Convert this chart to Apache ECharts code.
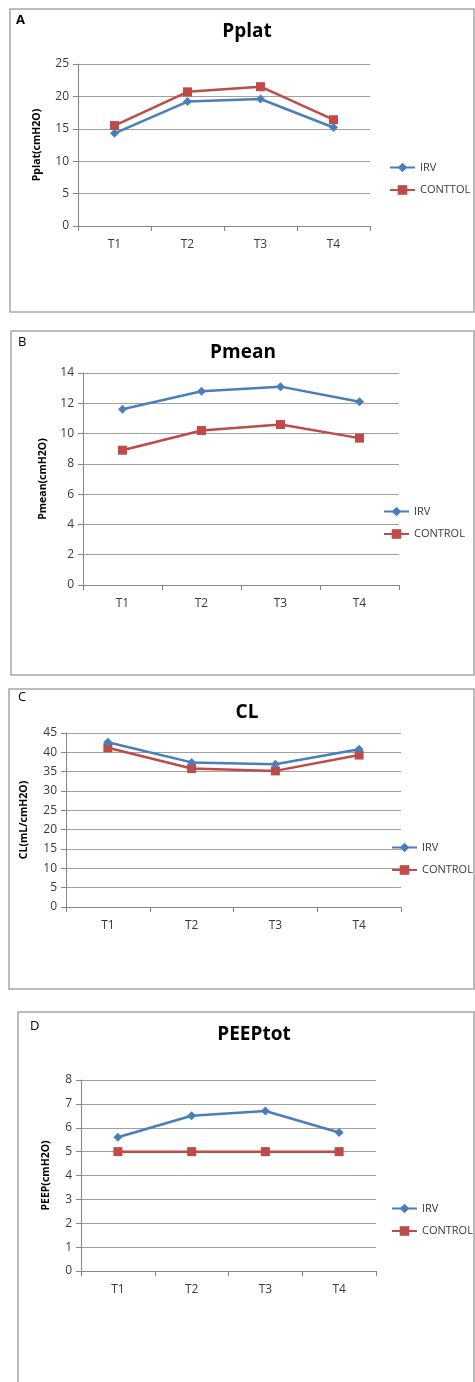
<!DOCTYPE html>
<html><head><meta charset="utf-8">
<script src="https://cdn.jsdelivr.net/npm/echarts@6/dist/echarts.min.js"></script>
<style>html,body{margin:0;padding:0;background:#fff}#c{width:475px;height:1382px}</style>
</head><body><div id="c"></div>
<script>
// ---- data ----
const categories = ['T1', 'T2', 'T3', 'T4'];
const pplatIRV = [14.3, 19.2, 19.6, 15.2];
const pplatControl = [15.5, 20.7, 21.5, 16.4];
const pmeanIRV = [11.6, 12.8, 13.1, 12.1];
const pmeanControl = [8.9, 10.2, 10.6, 9.7];
const clIRV = [42.6, 37.4, 36.9, 40.8];
const clControl = [41.2, 35.8, 35.2, 39.3];
const peepIRV = [5.6, 6.5, 6.7, 5.8];
const peepControl = [5, 5, 5, 5];
const titles = ['Pplat', 'Pmean', 'CL', 'PEEPtot'];
const letters = ['A', 'B', 'C', 'D'];
const yNames = ['Pplat(cmH2O)', 'Pmean(cmH2O)', 'CL(mL/cmH2O)', 'PEEP(cmH2O)'];
const controlNames = ['CONTTOL', 'CONTROL', 'CONTROL', 'CONTROL'];
const yMax = [25, 14, 45, 8];
const yStep = [5, 2, 5, 1];

// ---- layout (pixels) ----
const panels = [
  {frame: [10, 9, 474, 312], letter: [16, 14, true], title: [247, 35], grid: [78, 64, 370, 226], nameGap: 35, legend: [390, 168]},
  {frame: [11, 331, 474, 675], letter: [18, 336, false], title: [243, 356], grid: [83, 373, 399, 585], nameGap: 34, legend: [384, 512]},
  {frame: [9, 689, 474, 989], letter: [18, 691, false], title: [247, 716], grid: [66, 733, 401, 907], nameGap: 36, legend: [392, 848]},
  {frame: [18, 1012, 474, 1392], letter: [30, 1020, false], title: [254, 1038], grid: [81, 1080, 376, 1271], nameGap: 29, legend: [392, 1209]}
];
const irvData = [pplatIRV, pmeanIRV, clIRV, peepIRV];
const ctlData = [pplatControl, pmeanControl, clControl, peepControl];

const BLUE = '#4A7EBB', RED = '#BE4B48';
const FONT = 'Open Sans';
const chart = echarts.init(document.getElementById('c'), null, {renderer: 'canvas'});

const option = {
  backgroundColor: '#fff',
  animation: false,
  textStyle: {fontFamily: FONT},
  title: [], grid: [], xAxis: [], yAxis: [], series: [], legend: [], graphic: []
};

panels.forEach((p, i) => {
  const [fx0, fy0, fx1, fy1] = p.frame;
  option.graphic.push({type: 'rect', shape: {x: fx0, y: fy0, width: fx1 - fx0, height: fy1 - fy0},
    style: {fill: 'none', stroke: '#a6a6a6', lineWidth: 1.5}, silent: true, z: 0});
  option.graphic.push({type: 'text', x: p.letter[0], y: p.letter[1],
    style: {text: letters[i], font: (p.letter[2] ? 'bold ' : '') + '13px "' + FONT + '"', fill: '#000'}});
  option.title.push({text: titles[i], left: p.title[0], top: p.title[1] - 13, textAlign: 'center', padding: 0,
    textStyle: {fontFamily: FONT, fontWeight: 'bold', fontSize: 19, color: '#000'}});
  const [gx0, gy0, gx1, gy1] = p.grid;
  option.grid.push({left: gx0, top: gy0, width: gx1 - gx0, height: gy1 - gy0, containLabel: false});
  option.xAxis.push({type: 'category', gridIndex: i, data: categories, boundaryGap: true,
    axisLine: {lineStyle: {color: '#868686', width: 1}},
    axisTick: {show: true, length: 5, lineStyle: {color: '#868686'}},
    axisLabel: {color: '#3a3a3a', fontSize: 12, margin: 13, fontFamily: FONT}});
  option.yAxis.push({type: 'value', gridIndex: i, min: 0, max: yMax[i], interval: yStep[i],
    name: yNames[i], nameLocation: 'middle', nameRotate: 90, nameGap: p.nameGap,
    nameTextStyle: {fontWeight: 'bold', fontSize: 10.5, color: '#000', fontFamily: FONT},
    axisLine: {show: true, lineStyle: {color: '#868686', width: 1}},
    axisTick: {show: true, length: 5, lineStyle: {color: '#868686'}},
    splitLine: {show: true, lineStyle: {color: '#a0a0a0', width: 1}},
    axisLabel: {color: '#3a3a3a', fontSize: 12, margin: 9, fontFamily: FONT}});
  option.series.push({type: 'line', name: 'IRV', xAxisIndex: i, yAxisIndex: i, data: irvData[i],
    symbol: 'diamond', symbolSize: 9, lineStyle: {color: BLUE, width: 2.5},
    itemStyle: {color: BLUE}, z: 3});
  option.series.push({type: 'line', name: controlNames[i], xAxisIndex: i, yAxisIndex: i, data: ctlData[i],
    symbol: 'rect', symbolSize: 9, lineStyle: {color: RED, width: 2.5},
    itemStyle: {color: RED}, z: 2});
  option.legend.push({orient: 'vertical', left: p.legend[0] - 1, top: p.legend[1] - 6, padding: 0,
    itemWidth: 25, itemHeight: 12, itemGap: 11.5, data: ['IRV', controlNames[i]],
    textStyle: {fontSize: 11, color: '#3a3a3a', fontFamily: FONT}, selectedMode: false});
});

chart.setOption(option);
</script></body></html>
